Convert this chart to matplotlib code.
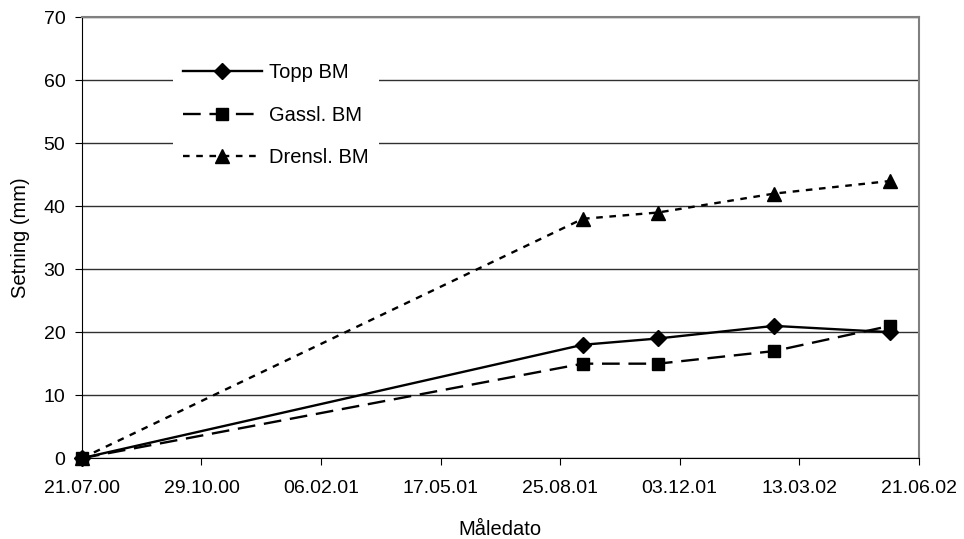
import datetime as dt
import matplotlib
matplotlib.use('Agg')
import matplotlib.pyplot as plt
import matplotlib.dates as mdates

plt.rcParams['font.family'] = ['Liberation Sans', 'DejaVu Sans']

# measurement dates and settlements (mm)
dates = [dt.date(2000, 7, 21), dt.date(2001, 9, 13), dt.date(2001, 11, 15),
         dt.date(2002, 2, 20), dt.date(2002, 5, 28)]
topp_bm = [0, 18, 19, 21, 20]
gassl_bm = [0, 15, 15, 17, 21]
drensl_bm = [0, 38, 39, 42, 44]

start = dt.date(2000, 7, 21)
xticks = [start + dt.timedelta(days=100 * i) for i in range(8)]

fig = plt.figure(figsize=(9.64, 5.39), dpi=100)
ax = fig.add_axes([0.085, 0.150, 0.868, 0.818])

ax.plot(dates, topp_bm, color='black', linestyle='-', linewidth=1.7,
        marker='D', markersize=8, label='Topp BM', zorder=3, clip_on=False)
ax.plot(dates, gassl_bm, color='black', linestyle=(0, (7.5, 3.7)), linewidth=1.7,
        marker='s', markersize=9, label='Gassl. BM', zorder=5, clip_on=False)
ax.plot(dates, drensl_bm, color='black', linestyle=(0, (2.8, 2.8)), linewidth=1.7,
        marker='^', markersize=9.5, label='Drensl. BM', zorder=3, clip_on=False)

ax.set_xlim(xticks[0], xticks[-1])
ax.set_ylim(0, 70)
ax.set_xticks(xticks)
ax.xaxis.set_major_formatter(mdates.DateFormatter('%d.%m.%y'))
ax.set_yticks(range(0, 71, 10))
ax.yaxis.grid(True, color='#303030', linewidth=1)
ax.set_axisbelow(True)

ax.tick_params(axis='both', labelsize=14, direction='out', length=5, color='black')
ax.tick_params(axis='x', pad=11)
ax.tick_params(axis='y', pad=7)
ax.spines['top'].set_color('#808080')
ax.spines['right'].set_color('#808080')
ax.spines['top'].set_linewidth(1.5)
ax.spines['right'].set_linewidth(1.5)

ax.set_xlabel('Måledato', fontsize=14.5, labelpad=16)
ax.set_ylabel('Setning (mm)', fontsize=14.5, labelpad=10)

leg = ax.legend(loc='upper left', bbox_to_anchor=(0.109, 0.918), fontsize=14.5,
                frameon=True, fancybox=False, edgecolor='none', framealpha=1,
                handlelength=3.9, labelspacing=1.15, handletextpad=0.35,
                borderpad=0.5, borderaxespad=0)
leg.set_zorder(10)

fig.savefig('out.png', dpi=100)
